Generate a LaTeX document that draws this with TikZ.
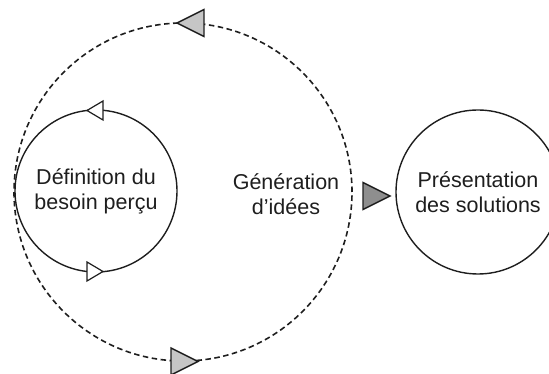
\documentclass[tikz,border=0pt]{standalone}
\usepackage{fontspec}
\setmainfont{Liberation Sans}
\usetikzlibrary{calc}

\definecolor{inkline}{HTML}{1E1E1E}
\definecolor{tipfill}{HTML}{C6C6C6}
\definecolor{handofffill}{HTML}{8E8E8E}

\tikzset{
  label text/.style={text=inkline, align=center, inner sep=0pt,
    font=\fontsize{21.5}{25}\selectfont},
  phase/.style={circle, draw=inkline, line width=1.4pt, inner sep=0pt,
    outer sep=0pt, label text},
  cycle path/.style={draw=inkline, line width=1.6pt,
    dash pattern=on 5.5pt off 3.5pt},
  % triangular direction marks, drawn with the tip at the pic origin, pointing right
  pics/big tip/.style={code={
    \draw[solid, draw=inkline, fill=#1, line width=1.4pt, line join=miter]
      (0,0) -- (-27,13.5) -- (-27,-13.5) -- cycle;}},
  pics/small tip/.style={code={
    \draw[solid, draw=inkline, fill=white, line width=1.2pt, line join=miter]
      (0,0) -- (-16,9.5) -- (-16,-9.5) -- cycle;}},
}

\begin{document}
\begin{tikzpicture}[x=1pt, y=1pt]
  \useasboundingbox (0,0) rectangle (549,374);
  \clip (0,0) rectangle (549,374);

  % outer iteration loop (dashed) around the ideation phase
  \coordinate (loop) at (183,182);
  \draw[cycle path] (loop) circle[radius=169];
  \pic[rotate=180] at ($(loop)+(-6,169)$) {big tip=tipfill};
  \pic at ($(loop)+(15,-169.5)$) {big tip=tipfill};

  % phase circles
  \node[phase, minimum size=162pt] (besoin) at (96,183)
    {Définition du\\besoin perçu};
  \node[phase, minimum size=164pt] (solutions) at (478,182)
    {Présentation\\des solutions};
  \node[label text] (idees) at (286,180) {Génération\\d{\char"0027}idées};

  % direction marks on the first phase circle
  \pic[rotate=180] at ($(besoin.center)+(-9,80.5)$) {small tip};
  \pic at ($(besoin.center)+(7,-80.5)$) {small tip};

  % hand-off arrow towards the presentation phase
  \coordinate (handoff tip) at (390,178);
  \pic at (handoff tip) {big tip=handofffill};
\end{tikzpicture}
\end{document}
